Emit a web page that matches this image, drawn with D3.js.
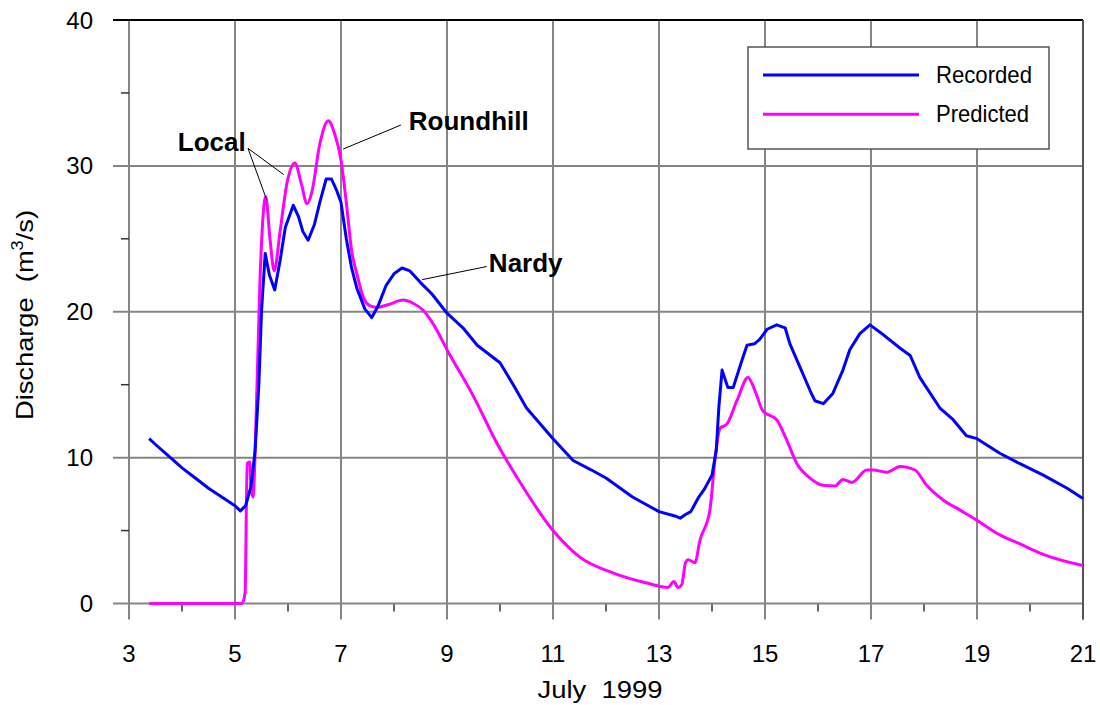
<!DOCTYPE html>
<html><head><meta charset="utf-8">
<script src="https://cdn.jsdelivr.net/npm/d3@7"></script>
<style>body{margin:0;background:#fff}text{font-family:Arial,"Liberation Sans",sans-serif}</style>
</head><body><svg id="c" width="1100" height="705"></svg>
<script>
const recDays = [3.38,3.5,3.75,4.0,4.25,4.5,4.75,5.0,5.1,5.2,5.3,5.38,5.45,5.5,5.57,5.65,5.75,5.85,5.95,6.1,6.2,6.28,6.38,6.5,6.6,6.72,6.82,6.92,7.0,7.1,7.2,7.3,7.45,7.58,7.7,7.85,8.0,8.15,8.3,8.5,8.72,9.0,9.3,9.57,10.0,10.25,10.5,11.0,11.38,11.7,12.0,12.5,13.0,13.3,13.4,13.5,13.6,13.75,13.85,14.0,14.08,14.13,14.19,14.3,14.4,14.55,14.66,14.8,14.9,15.04,15.22,15.38,15.47,15.66,15.85,15.94,16.1,16.28,16.47,16.6,16.79,16.98,17.17,17.55,17.74,17.92,18.3,18.55,18.8,19.0,19.43,19.8,20.25,20.7,21.0];
const recValues = [11.3,10.9,10.1,9.3,8.6,7.9,7.3,6.7,6.35,6.7,8.0,10.5,15,20,24.0,22.5,21.5,23.5,25.8,27.3,26.5,25.5,24.9,26,27.5,29.1,29.1,28.3,27.5,25.0,23,21.6,20.2,19.6,20.4,21.8,22.6,23.0,22.8,22.0,21.2,19.9,18.9,17.7,16.5,15,13.4,11.3,9.8,9.2,8.6,7.3,6.3,6.0,5.85,6.1,6.3,7.3,7.8,8.8,10.5,13.5,16.0,14.8,14.8,16.5,17.7,17.8,18.1,18.8,19.1,18.9,17.8,16.2,14.6,13.9,13.7,14.4,16.0,17.4,18.5,19.1,18.6,17.5,17.0,15.5,13.4,12.6,11.5,11.3,10.3,9.6,8.8,7.9,7.2];
const predDays = [3.38,5.13,5.19,5.23,5.28,5.3,5.34,5.4,5.47,5.58,5.66,5.74,5.85,5.98,6.13,6.25,6.36,6.45,6.6,6.76,6.88,7.0,7.1,7.2,7.3,7.42,7.55,7.68,7.9,8.17,8.35,8.55,8.75,9.0,9.5,9.94,10.38,11.0,11.5,12.13,12.77,13.17,13.28,13.36,13.43,13.5,13.55,13.68,13.77,13.96,14.06,14.15,14.28,14.47,14.68,14.81,14.96,15.22,15.41,15.6,15.85,16.1,16.32,16.47,16.64,16.92,17.04,17.3,17.55,17.83,18.05,18.36,18.68,19.0,19.43,19.8,20.3,21.0];
const predValues = [0,0,0.7,9.6,9.7,8.0,7.3,13,22,27.9,25,22.8,25.5,28.8,30.2,28.8,27.4,28.2,31.5,33.1,32.2,30.4,27.5,24.2,22.6,21.0,20.4,20.3,20.5,20.8,20.6,20.1,19.1,17.4,14.2,11.0,8.3,5.0,3.2,2.1,1.4,1.1,1.5,1.1,1.3,2.8,3.0,2.8,4.3,6.4,10.0,12.0,12.3,13.9,15.5,14.6,13.2,12.6,11.2,9.6,8.6,8.1,8.05,8.5,8.3,9.15,9.15,9.0,9.4,9.15,8.1,7.1,6.4,5.7,4.7,4.1,3.3,2.6];
const xTickLabels = [3,5,7,9,11,13,15,17,19,21];
const yTickLabels = [0,10,20,30,40];
const seriesNames = ["Recorded","Predicted"];
const annotations = [
  {text:"Local", tx:3.92, ty:31.0, lines:[[5.245,31.2,5.60,27.65],[5.245,31.2,5.92,29.4]]},
  {text:"Roundhill", tx:8.28, ty:32.45, lines:[[7.04,31.15,8.13,32.8]]},
  {text:"Nardy", tx:9.79, ty:22.75, lines:[[8.53,22.2,9.75,23.1]]}
];

const svg = d3.select("#c");
const L=129, R=1083, T=20, B=603.5;
const x = d3.scaleLinear().domain([3,21]).range([L,R]);
const y = d3.scaleLinear().domain([0,40]).range([B,T]);
const grid = "#858585";

// gridlines
const g = svg.append("g");
d3.range(3,22,2).forEach(d=>{
  g.append("line").attr("x1",x(d)).attr("x2",x(d)).attr("y1",T).attr("y2",B+16).attr("stroke",grid).attr("stroke-width",2);
});
d3.range(4,21,2).forEach(d=>{
  g.append("line").attr("x1",x(d)).attr("x2",x(d)).attr("y1",B).attr("y2",B+8).attr("stroke","#333").attr("stroke-width",1.5);
});
yTickLabels.forEach(d=>{
  g.append("line").attr("x1",L-16).attr("x2",R).attr("y1",y(d)).attr("y2",y(d)).attr("stroke",d===40?"#000":grid).attr("stroke-width",2);
});
d3.range(5,40,10).forEach(d=>{
  g.append("line").attr("x1",L-8).attr("x2",L).attr("y1",y(d)).attr("y2",y(d)).attr("stroke","#333").attr("stroke-width",1.5);
});
g.append("line").attr("x1",R).attr("x2",R).attr("y1",T).attr("y2",B+16).attr("stroke","#555").attr("stroke-width",2);

// tick labels
svg.append("g").selectAll("text").data(xTickLabels).join("text")
  .attr("x",d=>x(d)).attr("y",662).attr("text-anchor","middle").attr("font-size",24).text(d=>d);
svg.append("g").selectAll("text").data(yTickLabels).join("text")
  .attr("x",93).attr("y",d=>y(d)+8.5).attr("text-anchor","end").attr("font-size",24).text(d=>d);

// axis titles
svg.append("text").attr("x",600).attr("y",698).attr("text-anchor","middle").attr("font-size",23)
  .attr("textLength",125).attr("lengthAdjust","spacingAndGlyphs").style("white-space","pre").text("July  1999");
const yt = svg.append("text").attr("transform","translate(33,315) rotate(-90)").attr("text-anchor","middle").attr("font-size",24)
  .attr("textLength",210).attr("lengthAdjust","spacingAndGlyphs").style("white-space","pre");
yt.append("tspan").text("Discharge  (m");
yt.append("tspan").attr("font-size",16).attr("dy",-10).text("3");
yt.append("tspan").attr("dy",10).text("/s)");

// lines
const recData = recDays.map((d,i)=>[d,recValues[i]]);
const predData = predDays.map((d,i)=>[d,predValues[i]]);
const lineLin = d3.line().x(d=>x(d[0])).y(d=>y(d[1]));
const lineSm = d3.line().x(d=>x(d[0])).y(d=>y(d[1])).curve(d3.curveMonotoneX);
svg.append("path").attr("d",lineSm(predData)).attr("fill","none").attr("stroke","#ff00ff").attr("stroke-width",3).attr("stroke-linejoin","round");
svg.append("path").attr("d",lineLin(recData)).attr("fill","none").attr("stroke","#0000ff").attr("stroke-width",3).attr("stroke-linejoin","round");

// annotations
annotations.forEach(a=>{
  a.lines.forEach(l=>{
    svg.append("line").attr("x1",x(l[0])).attr("y1",y(l[1])).attr("x2",x(l[2])).attr("y2",y(l[3])).attr("stroke","#000").attr("stroke-width",1);
  });
  svg.append("text").attr("x",x(a.tx)).attr("y",y(a.ty)).attr("font-size",26).attr("font-weight","bold").text(a.text);
});

// legend
const lg = svg.append("g");
lg.append("rect").attr("x",748).attr("y",47).attr("width",301).attr("height",102).attr("fill","#fff").attr("stroke","#555").attr("stroke-width",1.5);
const colors = ["#0000ff","#ff00ff"];
const widths = [96,93];
seriesNames.forEach((n,i)=>{
  const yy = 75 + i*39.3;
  lg.append("line").attr("x1",763).attr("x2",919).attr("y1",yy).attr("y2",yy).attr("stroke",colors[i]).attr("stroke-width",3);
  lg.append("text").attr("x",936).attr("y",yy+8).attr("font-size",24).attr("textLength",widths[i]).attr("lengthAdjust","spacingAndGlyphs").text(n);
});
</script></body></html>
